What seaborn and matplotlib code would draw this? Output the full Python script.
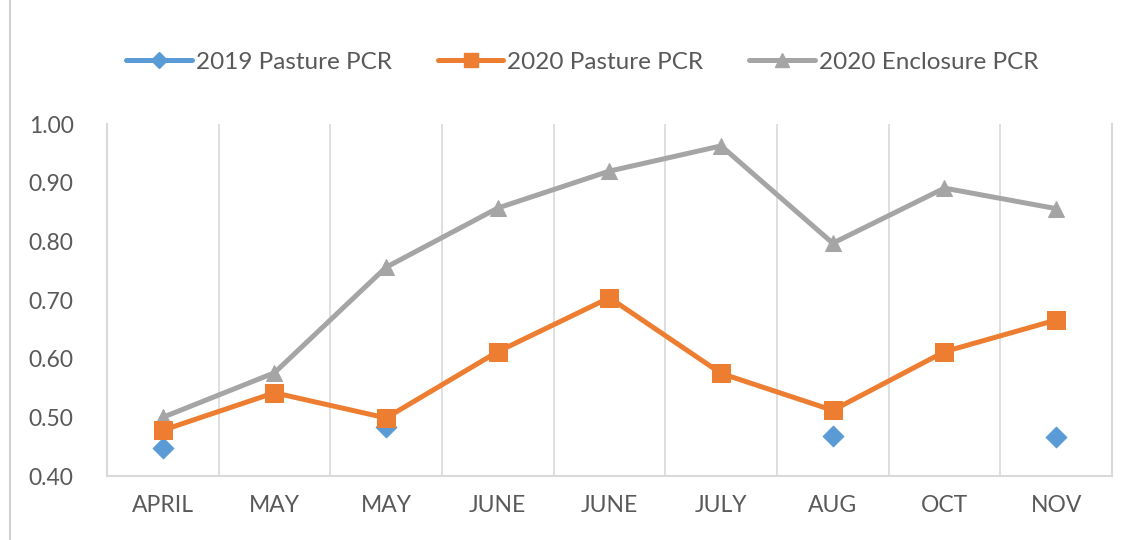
import numpy as np
import pandas as pd
import matplotlib
matplotlib.use("Agg")
import matplotlib.pyplot as plt
from matplotlib.lines import Line2D
import seaborn as sns

# Data
months = ["APRIL", "MAY", "MAY", "JUNE", "JUNE", "JULY", "AUG", "OCT", "NOV"]
pasture_2019 = [0.447, np.nan, 0.484, np.nan, np.nan, np.nan, 0.468, np.nan, 0.466]
pasture_2020 = [0.478, 0.542, 0.499, 0.612, 0.704, 0.575, 0.512, 0.612, 0.666]
enclosure_2020 = [0.500, 0.576, 0.756, 0.857, 0.920, 0.963, 0.797, 0.891, 0.856]

blue = "#5B9BD5"
orange = "#ED7D31"
grey = "#A5A5A5"
text_col = "#595959"

df = pd.DataFrame({
    "pos": range(len(months)),
    "p2019": pasture_2019,
    "p2020": pasture_2020,
    "e2020": enclosure_2020,
})

sns.set_theme(style="white")
plt.rcParams["font.family"] = ["Lato", "DejaVu Sans"]

fig = plt.figure(figsize=(11.37, 5.40), dpi=100)
ax = fig.add_axes([0.094, 0.1185, 0.884, 0.6515])

sns.lineplot(data=df, x="pos", y="e2020", ax=ax, color=grey, lw=3.6,
             marker="^", markersize=12, markeredgecolor=grey, sort=False)
sns.lineplot(data=df, x="pos", y="p2020", ax=ax, color=orange, lw=3.6,
             marker="s", markersize=13, markeredgecolor=orange, sort=False)
sns.scatterplot(data=df.dropna(subset=["p2019"]), x="pos", y="p2019", ax=ax,
                color=blue, marker="D", s=110, edgecolor=blue, zorder=1)

ax.set_xlim(-0.5, len(months) - 0.5)
ax.set_ylim(0.40, 1.00)
ax.set_yticks(np.arange(0.40, 1.001, 0.10))
ax.set_yticklabels([f"{v:.2f}" for v in np.arange(0.40, 1.001, 0.10)])
ax.set_xticks(range(len(months)))
ax.set_xticklabels(months)
ax.set_xlabel("")
ax.set_ylabel("")
ax.tick_params(axis="both", length=0, labelsize=16.5, labelcolor=text_col)
ax.tick_params(axis="y", pad=24)
ax.tick_params(axis="x", pad=14)

# vertical separators between categories
for b in np.arange(0.5, len(months) - 0.5, 1):
    ax.axvline(b, color="#D9D9D9", lw=1.2, zorder=0)
for side in ["left", "bottom", "right"]:
    ax.spines[side].set_color("#D9D9D9")
    ax.spines[side].set_linewidth(1.5)
ax.spines["top"].set_visible(False)

handles = [
    Line2D([], [], color=blue, lw=3.6, marker="D", markersize=8),
    Line2D([], [], color=orange, lw=3.6, marker="s", markersize=10),
    Line2D([], [], color=grey, lw=3.6, marker="^", markersize=10),
]
labels = ["2019 Pasture PCR", "2020 Pasture PCR", "2020 Enclosure PCR"]
fig.legend(handles, labels, loc="center", bbox_to_anchor=(0.512, 0.885), ncol=3,
           frameon=False, fontsize=17.5, labelcolor=text_col, handlelength=2.7,
           handletextpad=0.15, columnspacing=1.9)

# page border on the left
fig.add_artist(Line2D([0.009, 0.009], [0, 1], color="#D0D0D0", lw=1.5))

fig.savefig("out.png", dpi=100, facecolor="white")
